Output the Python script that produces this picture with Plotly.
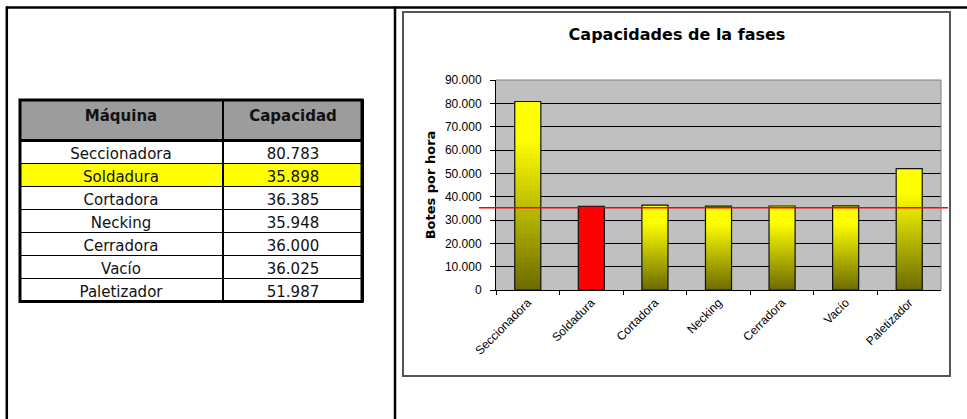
import plotly.graph_objects as go

# ---------------- data ----------------
maquinas = ["Seccionadora", "Soldadura", "Cortadora", "Necking", "Cerradora", "Vacío", "Paletizador"]
capacidad = [80783, 35898, 36385, 35948, 36000, 36025, 51987]
capacidad_txt = ["80.783", "35.898", "36.385", "35.948", "36.000", "36.025", "51.987"]
linea_referencia = 35200          # red horizontal reference line (bottleneck level)
y_ticks = [0, 10000, 20000, 30000, 40000, 50000, 60000, 70000, 80000, 90000]
cuello = "Soldadura"

W, H = 967, 419
def px(x):
    return x / W
def py(y):
    return 1 - y / H

fig = go.Figure()

# ---------------- table ----------------
row_fill = ["#FFFF00" if m == cuello else "#FFFFFF" for m in maquinas]
fig.add_trace(go.Table(
    domain=dict(x=[px(19), px(363)], y=[py(310), py(99)]),
    columnwidth=[204, 140],
    header=dict(values=["<b>Máquina</b>", "<b>Capacidad</b>"],
                fill_color="#9C9C9C", line=dict(color="black", width=1),
                font=dict(family="DejaVu Sans", size=15, color="#111"),
                align="center", height=41),
    cells=dict(values=[maquinas, capacidad_txt],
               fill_color=[row_fill, row_fill], line=dict(color="black", width=1),
               font=dict(family="DejaVu Sans", size=15, color="#111"),
               align="center", height=23),
))

# ---------------- bars with vertical gradient ----------------
N = 40
def seg_color(i, m):
    if m == cuello:
        return "#FF0000"
    t = (i + 0.5) / N
    t = min(1.0, t / 0.8)
    c = int(round(107 + 148 * t))
    return f"rgb({c},{c},0)"

for i in range(N):
    fig.add_trace(go.Bar(
        x=maquinas,
        y=[min(v * (i + 2) / N, v) - v * i / N for v in capacidad],
        base=[v * i / N for v in capacidad],
        marker=dict(color=[seg_color(i, m) for m in maquinas], line=dict(width=0)),
        showlegend=False, hoverinfo="skip",
    ))
# outline
fig.add_trace(go.Bar(
    x=maquinas, y=capacidad,
    marker=dict(color="rgba(0,0,0,0)", line=dict(color="#111", width=1.2)),
    showlegend=False, hoverinfo="skip",
))

fig.update_layout(
    width=W, height=H, autosize=False,
    margin=dict(l=0, r=0, t=0, b=0, autoexpand=False),
    paper_bgcolor="white", plot_bgcolor="#C0C0C0",
    barmode="overlay", bargap=0.59,
    separators=",.",
    font=dict(family="Liberation Sans, Arial", color="black"),
    title=dict(text="<b>Capacidades de la fases</b>", x=px(677), xanchor="center",
               y=py(34), yanchor="middle",
               font=dict(size=16, color="black", family="DejaVu Sans")),
    xaxis=dict(domain=[px(496), px(941)], showline=True, linecolor="black", linewidth=1,
               ticks="outside", ticklen=4, tickcolor="black", tickson="boundaries",
               tickangle=-45, tickfont=dict(size=12, color="black"),
               showgrid=False, fixedrange=True, automargin=False),
    yaxis=dict(domain=[py(290), py(80)], range=[0, 90000], tickvals=y_ticks,
               tickformat=",d", showline=True, linecolor="black", linewidth=1,
               ticks="outside", ticklen=5, tickcolor="black", ticklabelstandoff=6,
               tickfont=dict(size=12, color="black"), automargin=False,
               showgrid=True, gridcolor="black", gridwidth=1, zeroline=False,
               title=dict(text="<b>Botes por hora</b>", standoff=6,
                          font=dict(size=13, color="black", family="DejaVu Sans"))),
)

shapes = []
# red reference line
shapes.append(dict(type="line", xref="paper", yref="y", x0=px(479), x1=px(948),
                   y0=linea_referencia, y1=linea_referencia,
                   line=dict(color="#FF0000", width=1.5)))
# plot area top/right grey border
shapes.append(dict(type="line", xref="x domain", yref="y domain", x0=0, x1=1, y0=1, y1=1,
                   line=dict(color="#808080", width=1)))
shapes.append(dict(type="line", xref="x domain", yref="y domain", x0=1, x1=1, y0=0, y1=1,
                   line=dict(color="#808080", width=1)))
# chart frame
shapes.append(dict(type="rect", xref="paper", yref="paper", x0=px(403), x1=px(950),
                   y0=py(376), y1=py(12), line=dict(color="#555555", width=2)))
# outer page frame
shapes.append(dict(type="line", xref="paper", yref="paper", x0=px(6), x1=1, y0=py(7.5), y1=py(7.5),
                   line=dict(color="black", width=2.5)))
shapes.append(dict(type="line", xref="paper", yref="paper", x0=px(6.8), x1=px(6.8), y0=0, y1=py(6.5),
                   line=dict(color="black", width=2.5)))
shapes.append(dict(type="line", xref="paper", yref="paper", x0=px(395), x1=px(395), y0=0, y1=py(6.5),
                   line=dict(color="black", width=2.5)))
# table thick borders
shapes.append(dict(type="rect", xref="paper", yref="paper", x0=px(20), x1=px(362),
                   y0=py(301.5), y1=py(100), line=dict(color="black", width=3)))
shapes.append(dict(type="line", xref="paper", yref="paper", x0=px(20), x1=px(362),
                   y0=py(140.5), y1=py(140.5), line=dict(color="black", width=3)))
shapes.append(dict(type="line", xref="paper", yref="paper", x0=px(223), x1=px(223),
                   y0=py(301.5), y1=py(100), line=dict(color="black", width=2)))
fig.update_layout(shapes=shapes)

fig.write_html("out.html",
               post_script="document.body.style.margin='0';document.body.style.overflow='hidden';")
